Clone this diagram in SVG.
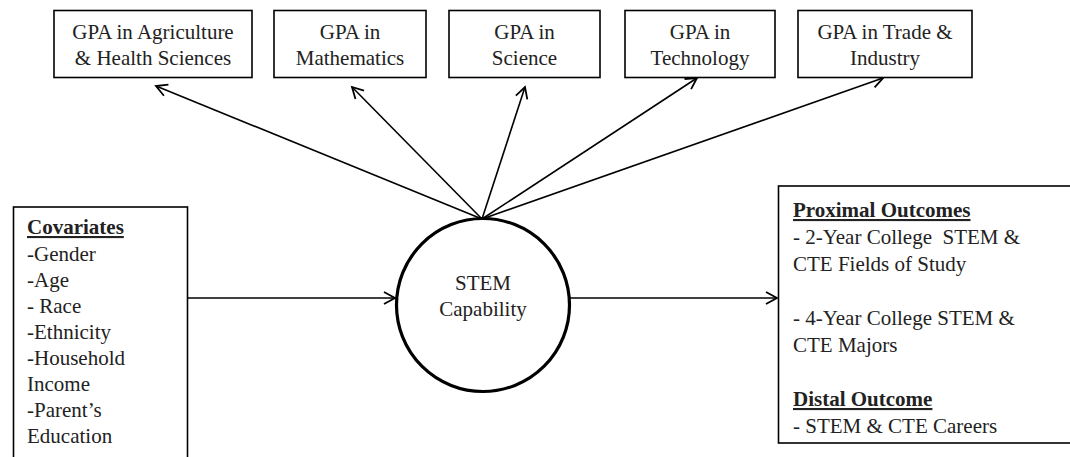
<svg xmlns="http://www.w3.org/2000/svg" width="1070" height="457" viewBox="0 0 1070 457">
<style>
.box{fill:#fff;stroke:#000;stroke-width:1.6}
.t{font-family:"Liberation Serif","Times New Roman",serif;font-size:21px;fill:#222}
.c{text-anchor:middle}
.b{font-weight:bold;text-decoration:underline}
.ln{stroke:#000;stroke-width:1.6;fill:none}
</style>
<defs>
<marker id="ah" markerUnits="userSpaceOnUse" markerWidth="16" markerHeight="16" refX="12" refY="7" orient="auto" viewBox="0 0 16 14">
<path d="M1,1 L12,7 L1,13" fill="none" stroke="#000" stroke-width="1.8"/>
</marker>
</defs>
<rect width="1070" height="457" fill="#fff"/>
<g id="connectors">
<line class="ln" x1="482" y1="219" x2="156" y2="86" marker-end="url(#ah)"/>
<line class="ln" x1="482" y1="219" x2="352" y2="87" marker-end="url(#ah)"/>
<line class="ln" x1="482" y1="219" x2="525" y2="87" marker-end="url(#ah)"/>
<line class="ln" x1="482" y1="219" x2="697" y2="78" marker-end="url(#ah)"/>
<line class="ln" x1="482" y1="219" x2="883" y2="78" marker-end="url(#ah)"/>
<line class="ln" x1="188" y1="298" x2="395" y2="298" marker-end="url(#ah)"/>
<line class="ln" x1="570" y1="298" x2="777" y2="298" marker-end="url(#ah)"/>
</g>
<g id="gpa-agri">
<rect class="box" x="54" y="10.5" width="198" height="67"/>
<text class="t c" x="153" y="39">GPA in Agriculture</text>
<text class="t c" x="153" y="65">&amp; Health Sciences</text>
</g>
<g id="gpa-math">
<rect class="box" x="274" y="10.5" width="152" height="67"/>
<text class="t c" x="350" y="39">GPA in</text>
<text class="t c" x="350" y="65">Mathematics</text>
</g>
<g id="gpa-sci">
<rect class="box" x="449" y="10.5" width="151" height="67"/>
<text class="t c" x="524.5" y="39">GPA in</text>
<text class="t c" x="524.5" y="65">Science</text>
</g>
<g id="gpa-tech">
<rect class="box" x="625" y="10.5" width="150" height="67"/>
<text class="t c" x="700" y="39">GPA in</text>
<text class="t c" x="700" y="65">Technology</text>
</g>
<g id="gpa-trade">
<rect class="box" x="798" y="10.5" width="174" height="67"/>
<text class="t c" x="885" y="39">GPA in Trade &amp;</text>
<text class="t c" x="885" y="65">Industry</text>
</g>
<g id="stem">
<circle cx="483" cy="305" r="86.5" fill="#fff" stroke="#000" stroke-width="3.2"/>
<text class="t c" x="483" y="290">STEM</text>
<text class="t c" x="483" y="316">Capability</text>
</g>
<g id="covariates">
<rect class="box" x="13.5" y="207" width="174" height="270"/>
<text class="t b" x="27" y="234">Covariates</text>
<text class="t" x="27" y="260.5">-Gender</text>
<text class="t" x="27" y="286.5">-Age</text>
<text class="t" x="27" y="312.5">- Race</text>
<text class="t" x="27" y="338.5">-Ethnicity</text>
<text class="t" x="27" y="364.5">-Household</text>
<text class="t" x="27" y="390.5">Income</text>
<text class="t" x="27" y="416.5">-Parent’s</text>
<text class="t" x="27" y="442.5">Education</text>
</g>
<g id="outcomes">
<rect class="box" x="778.5" y="186" width="320" height="257"/>
<text class="t b" x="793" y="217">Proximal Outcomes</text>
<text class="t" x="793" y="244" xml:space="preserve">- 2-Year College  STEM &amp;</text>
<text class="t" x="793" y="271">CTE Fields of Study</text>
<text class="t" x="793" y="325">- 4-Year College STEM &amp;</text>
<text class="t" x="793" y="352">CTE Majors</text>
<text class="t b" x="793" y="406">Distal Outcome</text>
<text class="t" x="793" y="433">- STEM &amp; CTE Careers</text>
</g>
</svg>
